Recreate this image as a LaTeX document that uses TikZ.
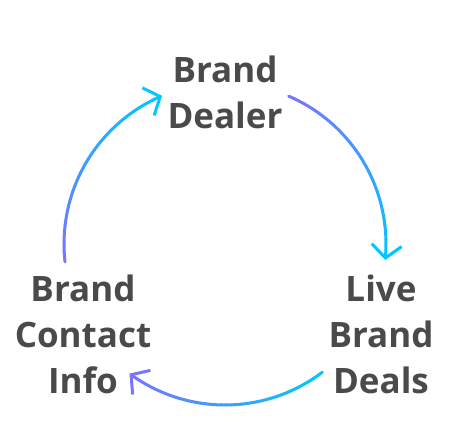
\documentclass[tikz,border=0pt]{standalone}
\usepackage{fontspec}
\setmainfont{Open Sans}
\usetikzlibrary{arrows.meta}
\definecolor{cpur}{HTML}{7A74FF}
\definecolor{ccy}{HTML}{00C8FF}
\definecolor{txt}{HTML}{4A4A4A}
\newcommand\gradarc[4]{%
  \foreach \k in {0,...,39}{%
    \pgfmathsetmacro\aa{#1+(#2-#1)*\k/40}%
    \pgfmathsetmacro\ab{#1+(#2-#1)*(\k+1)/40}%
    \pgfmathsetmacro\pc{100-2.5*\k}%
    \ifnum\k<39
      \draw[arcline, color=#3!\pc!#4] (ctr) ++(\aa:161) arc[start angle=\aa, end angle=\ab, radius=161];
    \else
      \draw[arcline, color=#4, -{Straight Barb[length=13pt,width=30pt]}] (ctr) ++(\aa:161) arc[start angle=\aa, end angle=\ab, radius=161];
    \fi
  }%
}
\begin{document}
\begin{tikzpicture}[x=1pt,y=1pt,
  arcline/.style={line width=3pt, line cap=round},
  label/.style={text=txt, font=\fontsize{35}{46}\selectfont\bfseries, align=center, inner sep=0pt, anchor=north}]
\useasboundingbox (0,0) rectangle (459,434);
\coordinate (ctr) at (225,190);
\node[label] (dealer) at (225,378) {Brand\\Dealer};
\node[label] (live) at (381,159) {Live\\Brand\\Deals};
\node[label] (contact) at (83,159) {Brand\\Contact\\Info};
\gradarc{66.7}{-5.7}{cpur}{ccy}
\gradarc{-52.8}{-126.4}{ccy}{cpur}
\gradarc{186.4}{113}{cpur}{ccy}
\end{tikzpicture}
\end{document}
